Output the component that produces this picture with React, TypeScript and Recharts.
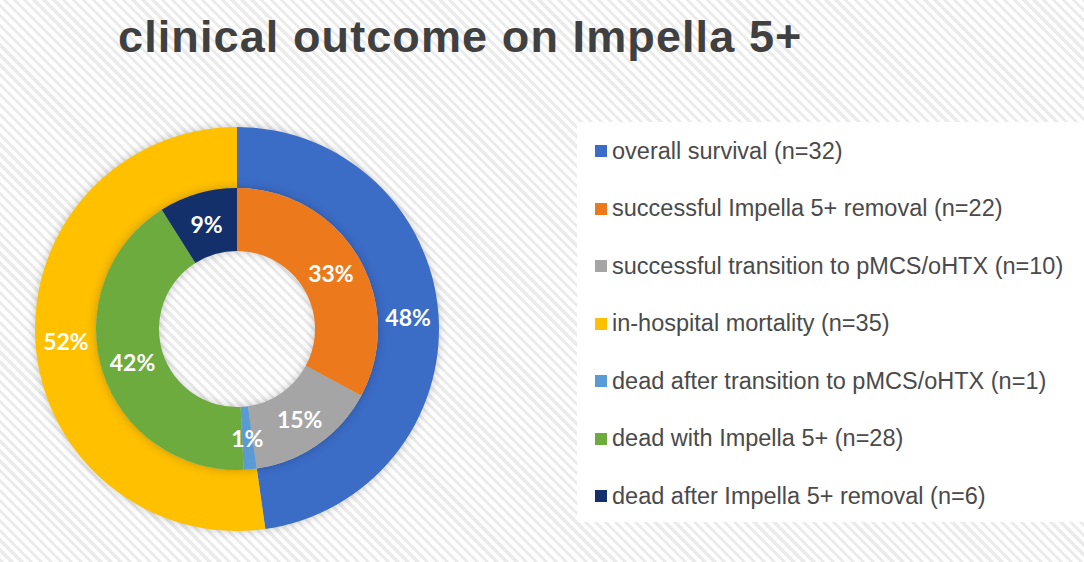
import React from 'react';
import { PieChart, Pie, Cell, Legend } from 'recharts';

const outerNames = ['overall survival (n=32)', 'in-hospital mortality (n=35)'];
const outerValues = [32, 35];
const outerColors = ['#3b6cc6', '#ffc000'];

const innerNames = [
  'successful Impella 5+ removal (n=22)',
  'successful transition to pMCS/oHTX (n=10)',
  'dead after transition to pMCS/oHTX (n=1)',
  'dead with Impella 5+ (n=28)',
  'dead after Impella 5+ removal (n=6)',
];
const innerValues = [22, 10, 1, 28, 6];
const innerColors = ['#ec7a1c', '#a5a5a5', '#5b9bd5', '#6eab3f', '#13306a'];

// legend order as in the original (outer/inner interleaved)
const legendOrder: [string, number][] = [
  ['outer', 0],
  ['inner', 0],
  ['inner', 1],
  ['outer', 1],
  ['inner', 2],
  ['inner', 3],
  ['inner', 4],
];

const outerData = outerNames.map((name, i) => ({ name, value: outerValues[i] }));
const innerData = innerNames.map((name, i) => ({ name, value: innerValues[i] }));

const RADIAN = Math.PI / 180;

const renderPercent = (props: any) => {
  const { cx, cy, midAngle, innerRadius, outerRadius, percent } = props;
  const r = (innerRadius + outerRadius) / 2;
  const x = cx + r * Math.cos(-midAngle * RADIAN);
  const y = cy + r * Math.sin(-midAngle * RADIAN);
  return (
    <text
      x={x}
      y={y}
      fill="#ffffff"
      textAnchor="middle"
      dominantBaseline="central"
      style={{ fontFamily: 'Lato, "Open Sans", sans-serif', fontWeight: 700, fontSize: 23 }}
    >
      {`${Math.round(percent * 100)}%`}
    </text>
  );
};

const CustomLegend: React.FC<any> = () => (
  <div
    style={{
      background: '#ffffff',
      width: 507,
      height: 400,
      position: 'relative',
      fontFamily: '"Liberation Sans", Arial, sans-serif',
      fontSize: 23.5,
      color: '#4a4a4a',
    }}
  >
    {legendOrder.map(([ring, idx], i) => {
      const name = ring === 'outer' ? outerNames[idx] : innerNames[idx];
      const color = ring === 'outer' ? outerColors[idx] : innerColors[idx];
      return (
        <div
          key={name}
          style={{
            position: 'absolute',
            left: 18,
            top: 29 + i * 57.5 - 14,
            height: 28,
            display: 'flex',
            alignItems: 'center',
            whiteSpace: 'nowrap',
          }}
        >
          <span style={{ display: 'inline-block', width: 12, height: 12, background: color, marginRight: 5 }} />
          <span>{name}</span>
        </div>
      );
    })}
  </div>
);

const App: React.FC = () => {
  return (
    <div
      style={{
        position: 'absolute',
        left: 0,
        top: 0,
        width: 1084,
        height: 562,
        overflow: 'hidden',
        background: 'repeating-linear-gradient(45deg, #ebebeb 0px, #ebebeb 3px, #ffffff 3px, #ffffff 7px)',
      }}
    >
      <style>{`.recharts-pie { filter: drop-shadow(0 0 5px rgba(0,0,0,0.22)); }`}</style>
      <div
        style={{
          position: 'absolute',
          left: 118,
          top: 14,
          fontFamily: '"Liberation Sans", Arial, sans-serif',
          fontWeight: 700,
          fontSize: 45,
          lineHeight: 1,
          letterSpacing: 1.1,
          color: '#404040',
          whiteSpace: 'nowrap',
        }}
      >
        clinical outcome on Impella 5+
      </div>
      <div style={{ position: 'absolute', left: 0, top: 0 }}>
        <PieChart width={1084} height={562} margin={{ top: 0, right: 0, bottom: 0, left: 0 }}>
          <Pie
            data={outerData}
            dataKey="value"
            cx={237}
            cy={329}
            innerRadius={141}
            outerRadius={202}
            startAngle={90}
            endAngle={-270}
            stroke="none"
            label={renderPercent}
            labelLine={false}
            isAnimationActive={false}
          >
            {outerData.map((d, i) => (
              <Cell key={d.name} fill={outerColors[i]} />
            ))}
          </Pie>
          <Pie
            data={innerData}
            dataKey="value"
            cx={237}
            cy={329}
            innerRadius={78}
            outerRadius={141}
            startAngle={90}
            endAngle={-270}
            stroke="none"
            label={renderPercent}
            labelLine={false}
            isAnimationActive={false}
          >
            {innerData.map((d, i) => (
              <Cell key={d.name} fill={innerColors[i]} />
            ))}
          </Pie>
          <Legend
            content={<CustomLegend />}
            layout="vertical"
            wrapperStyle={{ position: 'absolute', left: 577, top: 122, width: 507, height: 400 }}
          />
        </PieChart>
      </div>
    </div>
  );
};

export default App;
